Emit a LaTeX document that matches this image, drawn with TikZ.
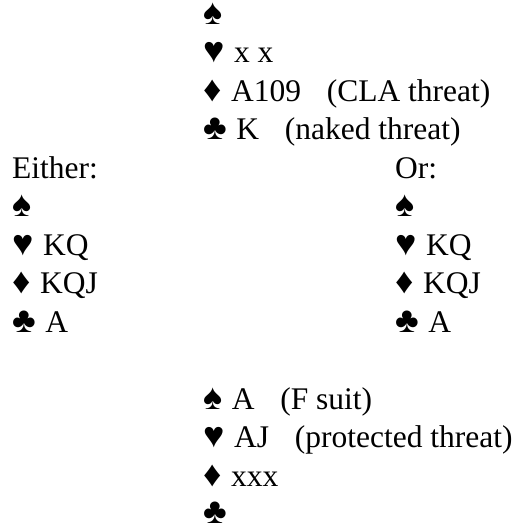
\documentclass[tikz,border=0pt]{standalone}
\usepackage{fontspec}
\setmainfont{Liberation Serif}
\newcommand\st[1]{{\fontsize{36}{36}\selectfont #1}\hspace{0.3em}}
\begin{document}
\begin{tikzpicture}[x=1pt,y=1pt,
  txt/.style={anchor=base west,inner sep=0pt,font=\fontsize{31.5}{31.5}\selectfont}]
\useasboundingbox (0,0) rectangle (511,527);
\def\gap{\hspace{0.82em}}
% North
\node[txt,text height=20pt,text depth=0pt] (n1) at (203,{527-24.5}) {\st{♠}};
\node[txt] (n2) at (203,{527-63}) {\st{♥}x x};
\node[txt] (n3) at (203,{527-101.5}) {\st{♦}A109\gap(CLA threat)};
\node[txt] (n4) at (203,{527-140}) {\st{♣}K\gap(naked threat)};
% West
\node[txt] (w0) at (12,{527-178.5}) {Either:};
\node[txt] (w1) at (12,{527-217}) {\st{♠}};
\node[txt] (w2) at (12,{527-255.5}) {\st{♥}KQ};
\node[txt] (w3) at (12,{527-294}) {\st{♦}KQJ};
\node[txt] (w4) at (12,{527-332.5}) {\st{♣}A};
% East
\node[txt] (e0) at (395,{527-178.5}) {Or:};
\node[txt] (e1) at (395,{527-217}) {\st{♠}};
\node[txt] (e2) at (395,{527-255.5}) {\st{♥}KQ};
\node[txt] (e3) at (395,{527-294}) {\st{♦}KQJ};
\node[txt] (e4) at (395,{527-332.5}) {\st{♣}A};
% South
\node[txt] (s1) at (203,{527-409.5}) {\st{♠}A\gap(F suit)};
\node[txt] (s2) at (203,{527-448}) {\st{♥}AJ\gap(protected threat)};
\node[txt] (s3) at (203,{527-486.5}) {\st{♦}xxx};
\node[txt,text height=20pt,text depth=0pt] (s4) at (203,{527-524}) {\st{♣}};
\end{tikzpicture}
\end{document}
